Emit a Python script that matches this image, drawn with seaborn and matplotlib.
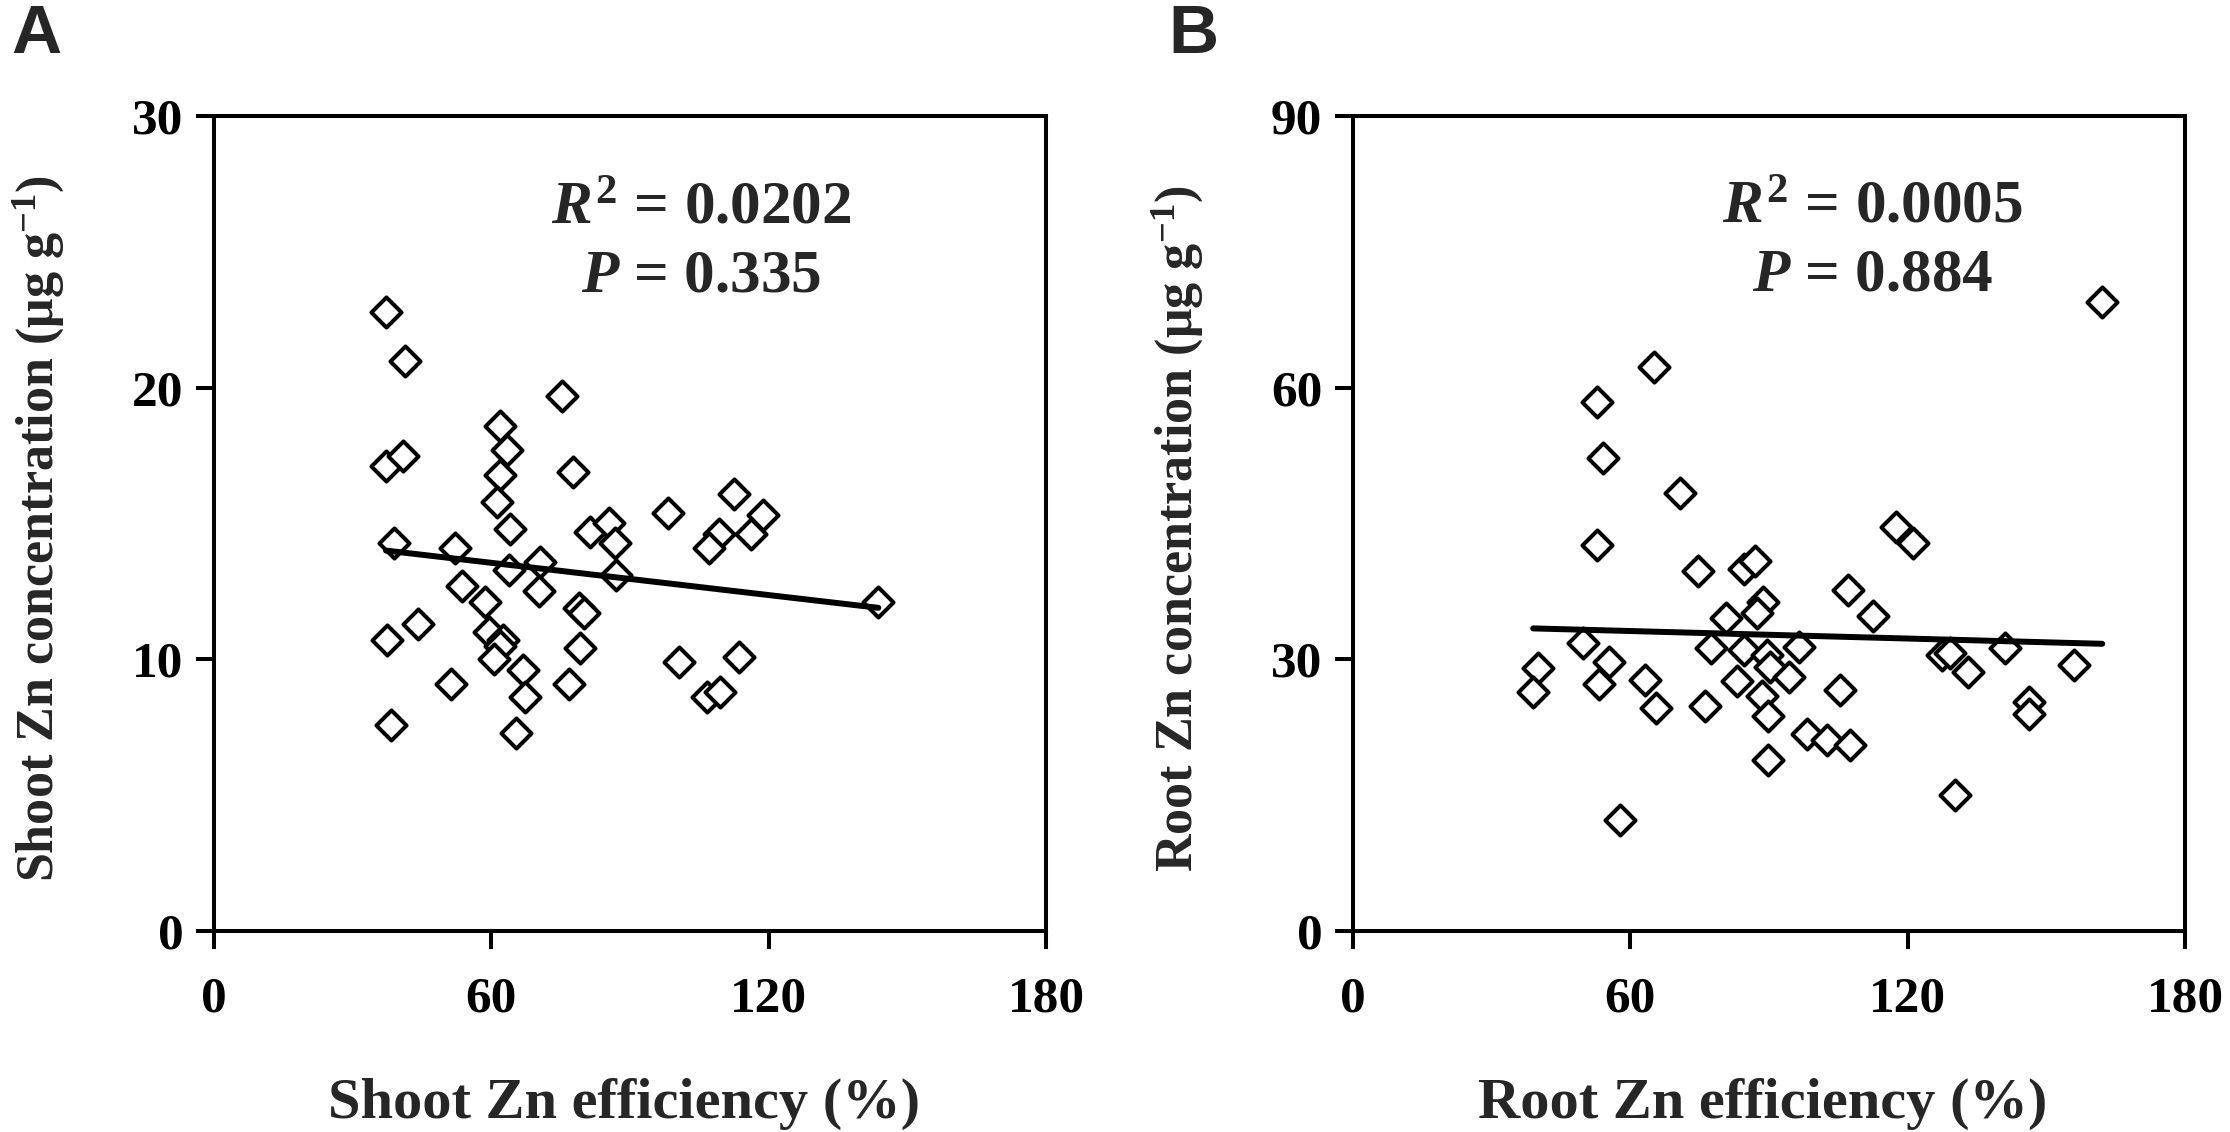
import numpy as np
import pandas as pd
import matplotlib
matplotlib.use("Agg")
import matplotlib.pyplot as plt
import seaborn as sns

# ---- data ----
shoot_eff = [37.2, 41.3, 75.3, 61.8, 63.4, 61.9, 61.2, 64.1, 37.2, 40.8,
             77.6, 39.0, 52.2, 63.9, 70.6, 81.4, 85.4, 86.8, 87.0, 53.7,
             70.4, 58.7, 78.9, 80.0, 44.2, 37.5, 59.4, 62.6, 61.9, 60.5,
             79.2, 66.9, 51.3, 76.7, 67.2, 38.3, 65.3, 98.1, 112.5, 118.8,
             116.2, 109.3, 107.1, 143.7, 100.6, 113.6, 106.6, 109.5]
shoot_zn = [22.8, 21.0, 19.7, 18.6, 17.7, 16.8, 15.8, 14.8, 17.1, 17.5,
            16.9, 14.3, 14.1, 13.3, 13.6, 14.7, 15.0, 14.3, 13.1, 12.7,
            12.5, 12.1, 11.9, 11.7, 11.3, 10.7, 11.0, 10.7, 10.5, 10.0,
            10.4, 9.6, 9.1, 9.1, 8.6, 7.6, 7.3, 15.4, 16.1, 15.3,
            14.6, 14.6, 14.1, 12.1, 9.9, 10.1, 8.6, 8.8]

root_eff = [65.2, 52.9, 54.0, 70.8, 52.9, 74.7, 84.5, 87.0, 88.8, 87.4,
            80.7, 49.8, 40.0, 39.0, 55.4, 53.3, 63.2, 65.6, 76.2, 77.5,
            84.5, 83.1, 89.5, 90.3, 88.5, 89.9, 89.9, 57.8, 162.1, 117.5,
            121.1, 107.1, 112.6, 96.6, 94.4, 105.3, 98.2, 102.5, 107.6, 127.4,
            129.2, 133.0, 141.1, 156.1, 146.2, 146.2, 130.3]
root_zn = [62.3, 58.4, 52.2, 48.4, 42.6, 39.8, 40.0, 40.9, 36.3, 35.1,
           34.6, 31.8, 29.0, 26.4, 29.7, 27.3, 27.7, 24.6, 24.8, 31.2,
           31.0, 27.6, 30.5, 29.2, 26.0, 23.7, 18.9, 12.3, 69.5, 44.6,
           42.8, 37.7, 34.8, 31.4, 28.1, 26.6, 21.8, 21.1, 20.5, 30.5,
           30.7, 28.6, 31.3, 29.4, 25.3, 24.0, 15.0]

x_ticks = [0, 60, 120, 180]
shoot_y_ticks = [0, 10, 20, 30]
root_y_ticks = [0, 30, 60, 90]

stats_a = ["0.0202", "0.335"]
stats_b = ["0.0005", "0.884"]

df_a = pd.DataFrame({"eff": shoot_eff, "zn": shoot_zn})
df_b = pd.DataFrame({"eff": root_eff, "zn": root_zn})

sns.set_theme(style="ticks")
plt.rcParams["font.family"] = ["Liberation Serif", "DejaVu Serif"]
plt.rcParams["font.weight"] = "bold"
plt.rcParams["mathtext.fontset"] = "custom"
plt.rcParams["mathtext.rm"] = "Liberation Serif:bold"
plt.rcParams["mathtext.it"] = "Liberation Serif:italic:bold"
plt.rcParams["mathtext.bf"] = "Liberation Serif:bold"

fig = plt.figure(figsize=(22.3, 11.32), dpi=100)
ax_a = fig.add_axes([0.0960, 0.1776, 0.3731, 0.7199])
ax_b = fig.add_axes([0.6067, 0.1776, 0.3731, 0.7199])


def draw_panel(ax, df, yticks, xlabel, ylabel, stats, txt_x, txt_y):
    sns.regplot(data=df, x="eff", y="zn", ax=ax, ci=None, truncate=True,
                marker="D", color="black",
                scatter_kws={"s": 235, "facecolor": "white", "edgecolor": "black",
                             "linewidths": 2.9, "alpha": 1, "zorder": 2},
                line_kws={"lw": 4.3, "zorder": 3})
    ax.set_xlim(x_ticks[0], x_ticks[-1])
    ax.set_ylim(yticks[0], yticks[-1])
    ax.set_xticks(x_ticks)
    ax.set_yticks(yticks)
    for sp in ax.spines.values():
        sp.set_visible(True)
        sp.set_linewidth(2.9)
        sp.set_color("black")
    ax.tick_params(axis="both", direction="out", length=13, width=2.9,
                   labelsize=37, colors="black")
    ax.tick_params(axis="x", pad=20)
    ax.tick_params(axis="y", pad=9)
    for lab in ax.get_xticklabels() + ax.get_yticklabels():
        lab.set_fontweight("bold")
    ax.set_xlabel(xlabel, fontsize=42, fontweight="bold")
    ax.set_ylabel(ylabel, fontsize=37.5, fontweight="bold")
    ax.xaxis.set_label_coords(0.493, -0.180)
    ax.yaxis.set_label_coords(-0.178, 0.494)
    ax.text(txt_x, txt_y[0], r"$R^{2}$ = " + stats[0], ha="center", va="center",
            fontsize=44, fontweight="bold")
    ax.text(txt_x, txt_y[1], r"$P$ = " + stats[1], ha="center", va="center",
            fontsize=44, fontweight="bold")


draw_panel(ax_a, df_a, shoot_y_ticks, "Shoot Zn efficiency (%)",
           r"Shoot Zn concentration (μg g$^{-1}$)", stats_a, 105.4, (26.6, 24.1))
draw_panel(ax_b, df_b, root_y_ticks, "Root Zn efficiency (%)",
           r"Root Zn concentration (μg g$^{-1}$)", stats_b, 112.4, (79.9, 72.4))

fig.text(0.005, 0.997, "A", fontsize=50, fontweight="bold", va="top",
         family=["Liberation Sans", "DejaVu Sans"])
fig.text(0.524, 0.997, "B", fontsize=50, fontweight="bold", va="top",
         family=["Liberation Sans", "DejaVu Sans"])

fig.savefig("out.png", dpi=100, facecolor="white")
